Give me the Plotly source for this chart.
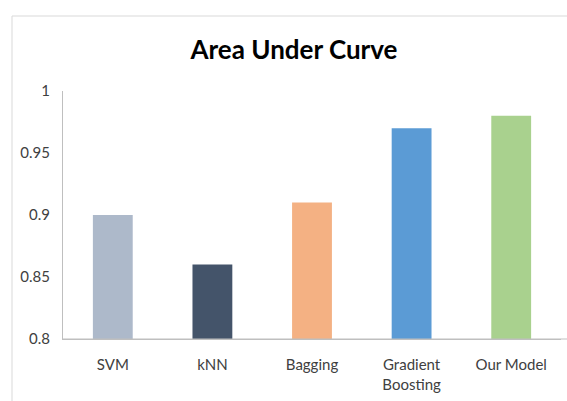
import plotly.graph_objects as go

categories = ["SVM", "kNN", "Bagging", "Gradient<br>Boosting", "Our Model"]
auc_values = [0.90, 0.86, 0.91, 0.97, 0.98]
bar_colors = ["#ADB9CA", "#44546A", "#F4B183", "#5B9BD5", "#A9D18E"]
y_ticks = [0.8, 0.85, 0.9, 0.95, 1.0]
y_tick_labels = ["0.8", "0.85", "0.9", "0.95", "1"]

W, H = 567, 401
L, R, T, B = 63, 6, 91, 62
pw, ph = W - L - R, H - T - B

def px_x(x):
    return (x - L) / pw

def px_y(y):
    return (H - B - y) / ph

fig = go.Figure(
    go.Bar(
        x=categories,
        y=auc_values,
        marker=dict(color=bar_colors, line=dict(width=0)),
        width=0.4,
        base=0,
    )
)

fig.update_layout(
    width=W,
    height=H,
    margin=dict(l=L, r=R, t=T, b=B),
    paper_bgcolor="white",
    plot_bgcolor="white",
    showlegend=False,
    font=dict(family="Lato", size=15, color="#404040"),
    title=dict(
        text="<b>Area Under Curve</b>",
        x=294 / W,
        xanchor="center",
        y=1 - 50 / H,
        yanchor="middle",
        font=dict(family="Lato", size=26, color="#000000"),
    ),
    xaxis=dict(
        showline=True,
        linecolor="#BFBFBF",
        linewidth=1,
        showgrid=False,
        ticks="",
        tickfont=dict(size=15, color="#404040"),
        ticklabelstandoff=12,
    ),
    yaxis=dict(
        range=[0.8, 1.0],
        tickvals=y_ticks,
        ticktext=y_tick_labels,
        showline=True,
        linecolor="#BFBFBF",
        linewidth=1,
        showgrid=False,
        zeroline=False,
        ticks="",
        tickfont=dict(size=15, color="#404040"),
        ticklabelstandoff=9,
    ),
    shapes=[
        dict(
            type="line", xref="paper", yref="paper",
            x0=px_x(12), x1=px_x(12), y0=px_y(16), y1=px_y(420),
            line=dict(color="#D9D9D9", width=1),
        ),
        dict(
            type="line", xref="paper", yref="paper",
            x0=px_x(12), x1=px_x(600), y0=px_y(16), y1=px_y(16),
            line=dict(color="#D9D9D9", width=1),
        ),
        dict(
            type="line", xref="paper", yref="paper",
            x0=0, x1=px_x(600), y0=0, y1=0,
            line=dict(color="#BFBFBF", width=1),
        ),
    ],
)

fig.write_html("out.html")
